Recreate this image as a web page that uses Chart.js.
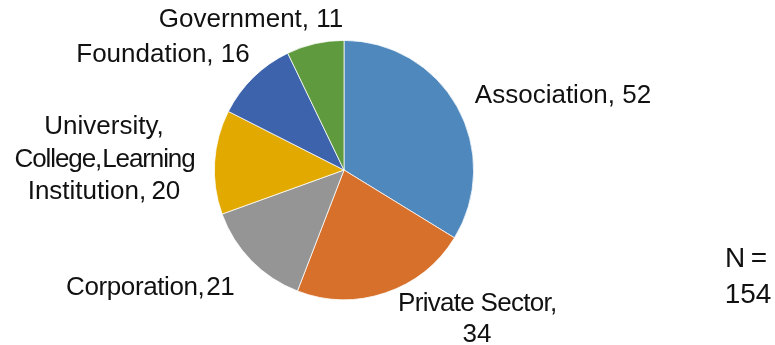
<!DOCTYPE html>
<html>
<head>
<meta charset="utf-8">
<script src="https://cdn.jsdelivr.net/npm/chart.js@4/dist/chart.umd.min.js"></script>
<style>
  html, body { margin: 0; padding: 0; background: #ffffff; }
  #wrap { width: 775px; height: 345px; position: relative; }
</style>
</head>
<body>
<div id="wrap"><canvas id="c" width="775" height="345"></canvas></div>
<script>
// Organisation types and counts
const categories = ['Association', 'Private Sector', 'Corporation', 'University, College, Learning Institution', 'Foundation', 'Government'];
const counts = [52, 34, 21, 20, 16, 11];
const sliceColors = ['#4F88BD', '#D6702B', '#959595', '#E2AA00', '#3D63AD', '#5F9B3E'];

// Label text lines (name part); the count is appended from `counts`
const labelLines = [
  ['Association, '],
  ['Private Sector,', ''],
  ['Corporation,\u200A'],
  ['University,', 'College,\u200ALearning', 'Institution,\u2009'],
  ['Foundation, '],
  ['Government, ']
];
// Label placement: centre x and baseline y of the first line, line gap, per-line tracking
const labelPlacement = [
  { x: 563, y: 103, gap: 32 },
  { x: 477, y: 311, gap: 31, track: [-0.7, 0] },
  { x: 150, y: 295, gap: 32, track: [-0.4] },
  { x: 104, y: 134, gap: 32.5, track: [0, -1.1, 0] },
  { x: 163, y: 62, gap: 32 },
  { x: 251, y: 27, gap: 32 }
];

const total = counts.reduce((a, b) => a + b, 0);

const labelFont = '26px "Liberation Sans", Arial, sans-serif';
const noteFont = '28px "Liberation Sans", Arial, sans-serif';

const sliceLabels = {
  id: 'sliceLabels',
  afterDraw(chart) {
    const ctx = chart.ctx;
    ctx.save();
    ctx.font = labelFont;
    ctx.fillStyle = '#111111';
    ctx.textAlign = 'center';
    ctx.textBaseline = 'alphabetic';
    labelLines.forEach((lines, i) => {
      const p = labelPlacement[i];
      lines.forEach((ln, j) => {
        const text = (j === lines.length - 1) ? ln + counts[i] : ln;
        const t = p.track ? p.track[j] : 0;
        ctx.letterSpacing = t + 'px';
        ctx.fillText(text, p.x - t / 2, p.y + j * p.gap);
      });
    });
    ctx.letterSpacing = '0px';
    // Sample size note
    ctx.font = noteFont;
    ctx.fillText('N\u2009=', 746, 267);
    ctx.fillText(String(total), 748, 303);
    ctx.restore();
  }
};

new Chart(document.getElementById('c'), {
  type: 'pie',
  data: {
    labels: categories,
    datasets: [{
      data: counts,
      backgroundColor: sliceColors,
      borderColor: '#ffffff',
      borderWidth: 0.75
    }]
  },
  options: {
    responsive: false,
    animation: false,
    layout: { padding: { left: 214, right: 301, top: 40, bottom: 45 } },
    plugins: {
      legend: { display: false },
      tooltip: { enabled: false }
    }
  },
  plugins: [sliceLabels]
});
</script>
</body>
</html>
